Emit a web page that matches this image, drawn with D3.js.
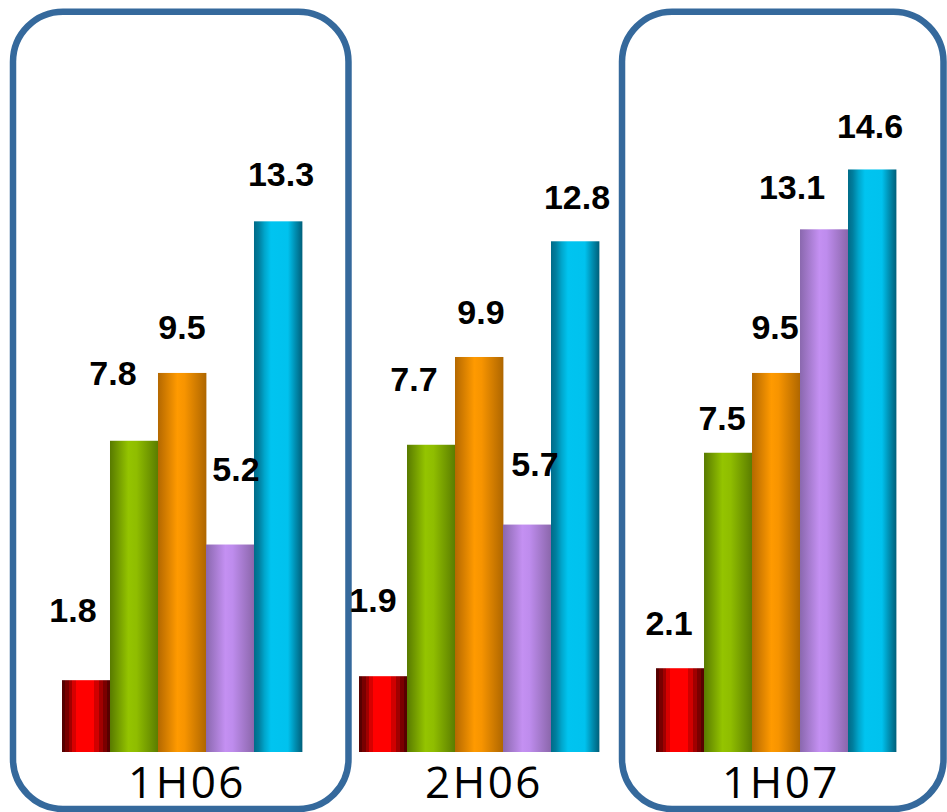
<!DOCTYPE html>
<html>
<head>
<meta charset="utf-8">
<script src="https://cdn.jsdelivr.net/npm/d3@7"></script>
<style>
  html, body { margin: 0; padding: 0; background: #ffffff; }
  svg { display: block; }
</style>
</head>
<body>
<svg id="chart" width="947" height="812"></svg>
<script>
// Half-year periods along the x axis
const periods = ["1H06", "2H06", "1H07"];
// Periods framed by a rounded outline
const highlighted = ["1H06", "1H07"];

// One series per bar colour, values per period
const seriesKeys = ["red", "green", "orange", "purple", "cyan"];
const redValues    = [1.8, 1.9, 2.1];
const greenValues  = [7.8, 7.7, 7.5];
const orangeValues = [9.5, 9.9, 9.5];
const purpleValues = [5.2, 5.7, 13.1];
const cyanValues   = [13.3, 12.8, 14.6];

const valuesBySeries = {
  red: redValues, green: greenValues, orange: orangeValues,
  purple: purpleValues, cyan: cyanValues
};

// Cylinder-style shading for each series (offset, colour)
const shading = {
  red: [[0, "#560000"], [0.07, "#560000"], [0.07, "#780000"], [0.14, "#780000"], [0.14, "#a00000"],
        [0.21, "#a00000"], [0.21, "#d60000"], [0.28, "#d60000"], [0.28, "#ff0000"], [0.66, "#ff0000"],
        [0.66, "#d00000"], [0.76, "#d00000"], [0.76, "#a00000"], [0.85, "#a00000"], [0.85, "#7a0000"],
        [0.93, "#7a0000"], [0.93, "#580000"], [1, "#580000"]],
  green:  [[0, "#587a00"], [0.38, "#94c400"], [0.55, "#8fbd00"], [1, "#5a7c00"]],
  orange: [[0, "#b46800"], [0.4, "#ff9a00"], [0.55, "#f79400"], [1, "#ae6600"]],
  purple: [[0, "#8a68ae"], [0.4, "#c490f2"], [0.55, "#be8ced"], [1, "#8a66aa"]],
  cyan:   [[0, "#006b88"], [0.1, "#007e9e"], [0.22, "#00a6cc"], [0.35, "#00c4f0"],
           [0.7, "#00c2ee"], [0.85, "#008fb2"], [1, "#005f7a"]]
};

// Label placement: [dx from bar centre, gap above bar top], per period then series
const labelNudge = {
  "1H06": { red: [-13, 58], green: [-21, 56], orange: [0, 34], purple: [6, 64],  cyan: [3, 35] },
  "2H06": { red: [-10, 64], green: [-17, 54], orange: [2, 33], purple: [8, 49],  cyan: [2, 32] },
  "1H07": { red: [-11, 33], green: [-6, 23],  orange: [-1, 34], purple: [-32, 30], cyan: [-2, 31] }
};

// Frame padding [left, right] around each highlighted period's bars
const framePad = { "1H06": [49, 46.5], "1H07": [34, 47.5] };

const svg = d3.select("#chart");
const baseline = 752;

const x0 = d3.scaleBand().domain(periods).range([62, 896]).paddingInner(0.192).paddingOuter(0);
const x1 = d3.scaleBand().domain(seriesKeys).range([0, x0.bandwidth()]);
const y = d3.scaleLinear().domain([0, 15]).range([baseline, 153.5]);

// Gradients
const defs = svg.append("defs");
seriesKeys.forEach(k => {
  const g = defs.append("linearGradient")
    .attr("id", "grad-" + k)
    .attr("x1", "0").attr("x2", "1").attr("y1", "0").attr("y2", "0");
  shading[k].forEach(([o, c]) => g.append("stop").attr("offset", o).attr("stop-color", c));
});

// Rounded frames around highlighted periods
svg.append("g").selectAll("rect")
  .data(highlighted)
  .join("rect")
  .attr("x", d => x0(d) - framePad[d][0])
  .attr("y", 11.7)
  .attr("width", d => x0.bandwidth() + framePad[d][0] + framePad[d][1])
  .attr("height", 809 - 11.7)
  .attr("rx", 50).attr("ry", 50)
  .attr("fill", "none")
  .attr("stroke", "#35699c")
  .attr("stroke-width", 6.5);

// Flatten to one record per bar
const bars = [];
periods.forEach((p, i) => {
  seriesKeys.forEach(k => bars.push({ period: p, key: k, value: valuesBySeries[k][i] }));
});

const barG = svg.append("g");
barG.selectAll("rect")
  .data(bars)
  .join("rect")
  .attr("x", d => x0(d.period) + x1(d.key))
  .attr("y", d => y(d.value))
  .attr("width", x1.bandwidth() + 0.4)
  .attr("height", d => y(0) - y(d.value))
  .attr("fill", d => "url(#grad-" + d.key + ")");

// Value labels
svg.append("g").selectAll("text")
  .data(bars)
  .join("text")
  .attr("x", d => x0(d.period) + x1(d.key) + x1.bandwidth() / 2 + labelNudge[d.period][d.key][0])
  .attr("y", d => y(d.value) - labelNudge[d.period][d.key][1])
  .attr("text-anchor", "middle")
  .attr("font-family", "'Liberation Sans', Arial, sans-serif")
  .attr("font-weight", "bold")
  .attr("font-size", 34)
  .attr("fill", "#000")
  .text(d => d3.format(".1f")(d.value));

// Category axis
const axis = svg.append("g")
  .attr("transform", `translate(0,${baseline})`)
  .call(d3.axisBottom(x0).tickSize(0).tickPadding(15));
axis.select(".domain").remove();
axis.selectAll("text")
  .attr("font-family", "'Open Sans', 'DejaVu Sans', sans-serif")
  .attr("font-size", 44)
  .attr("letter-spacing", 2.5)
  .attr("dx", 5)
  .attr("fill", "#000");
</script>
</body>
</html>
